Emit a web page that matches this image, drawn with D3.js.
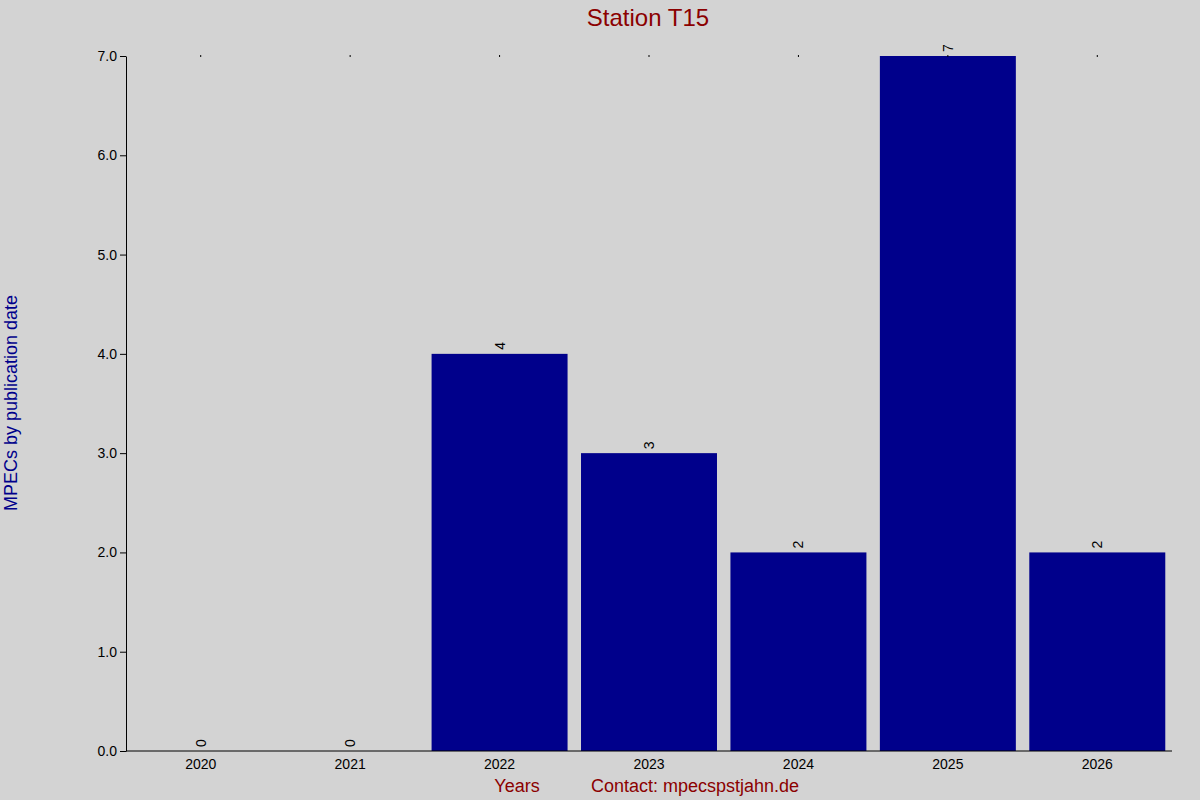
<!DOCTYPE html>
<html><head><meta charset="utf-8">
<script src="https://cdn.jsdelivr.net/npm/d3@7"></script>
<style>body{margin:0;background:#d3d3d3}svg{display:block;font-family:Arial,"Liberation Sans",sans-serif}</style>
</head><body>
<script>
const years = ["2020","2021","2022","2023","2024","2025","2026"];
const counts = [0,0,4,3,2,7,2];
const yTicks = [0,1,2,3,4,5,6,7];

const W=1200,H=800,L=126,R=1172,T=56,B=751;
const svg=d3.select("body").append("svg").attr("width",W).attr("height",H);
svg.append("rect").attr("width",W).attr("height",H).attr("fill","#d3d3d3");
const x=d3.scaleBand().domain(years).range([L,R]).paddingInner(0.09).paddingOuter(0.045);
const y=d3.scaleLinear().domain([0,7]).range([B,T]);

svg.selectAll(".bar").data(years).join("rect")
 .attr("x",d=>x(d)).attr("width",x.bandwidth())
 .attr("y",(d,i)=>y(counts[i])).attr("height",(d,i)=>B-y(counts[i]))
 .attr("fill","#00008b");

svg.selectAll(".lbl").data(years).join("text")
 .attr("transform",(d,i)=>`translate(${x(d)+x.bandwidth()/2+5},${y(counts[i])-4}) rotate(-90)`)
 .attr("font-size",14).attr("fill","#000").text((d,i)=>counts[i]);

const ya=svg.append("g").attr("transform",`translate(${L},0)`).call(d3.axisLeft(y).tickValues(yTicks).tickSize(6).tickSizeOuter(0));
ya.selectAll("text").attr("font-size",14).attr("fill","#000").attr("font-family","Arial,'Liberation Sans',sans-serif");
ya.select(".domain").attr("stroke","#000");
const xa=svg.append("g").attr("transform",`translate(0,${B})`).call(d3.axisBottom(x).tickSize(0).tickSizeOuter(0).tickPadding(8));
xa.selectAll("text").attr("font-size",14).attr("fill","#000").attr("font-family","Arial,'Liberation Sans',sans-serif");
xa.select(".domain").attr("d",`M${L},0H${R}`).attr("stroke","#000");
// top tick dots
svg.selectAll(".tt").data(years).join("line")
 .attr("x1",d=>x(d)+x.bandwidth()/2).attr("x2",d=>x(d)+x.bandwidth()/2)
 .attr("y1",T-1).attr("y2",T+1).attr("stroke","#000");

svg.append("text").attr("x",648).attr("y",26).attr("text-anchor","middle").attr("font-size",24).attr("fill","#8b0000").text("Station T15");
svg.append("text").attr("transform","translate(17,403) rotate(-90)").attr("text-anchor","middle").attr("font-size",18).attr("fill","#00008b").text("MPECs by publication date");
svg.append("text").attr("x",517).attr("y",792).attr("text-anchor","middle").attr("font-size",18).attr("fill","#8b0000").text("Years");
svg.append("text").attr("x",591).attr("y",792).attr("font-size",18).attr("fill","#8b0000").text("Contact: mpecspstjahn.de");
</script>
</body></html>
